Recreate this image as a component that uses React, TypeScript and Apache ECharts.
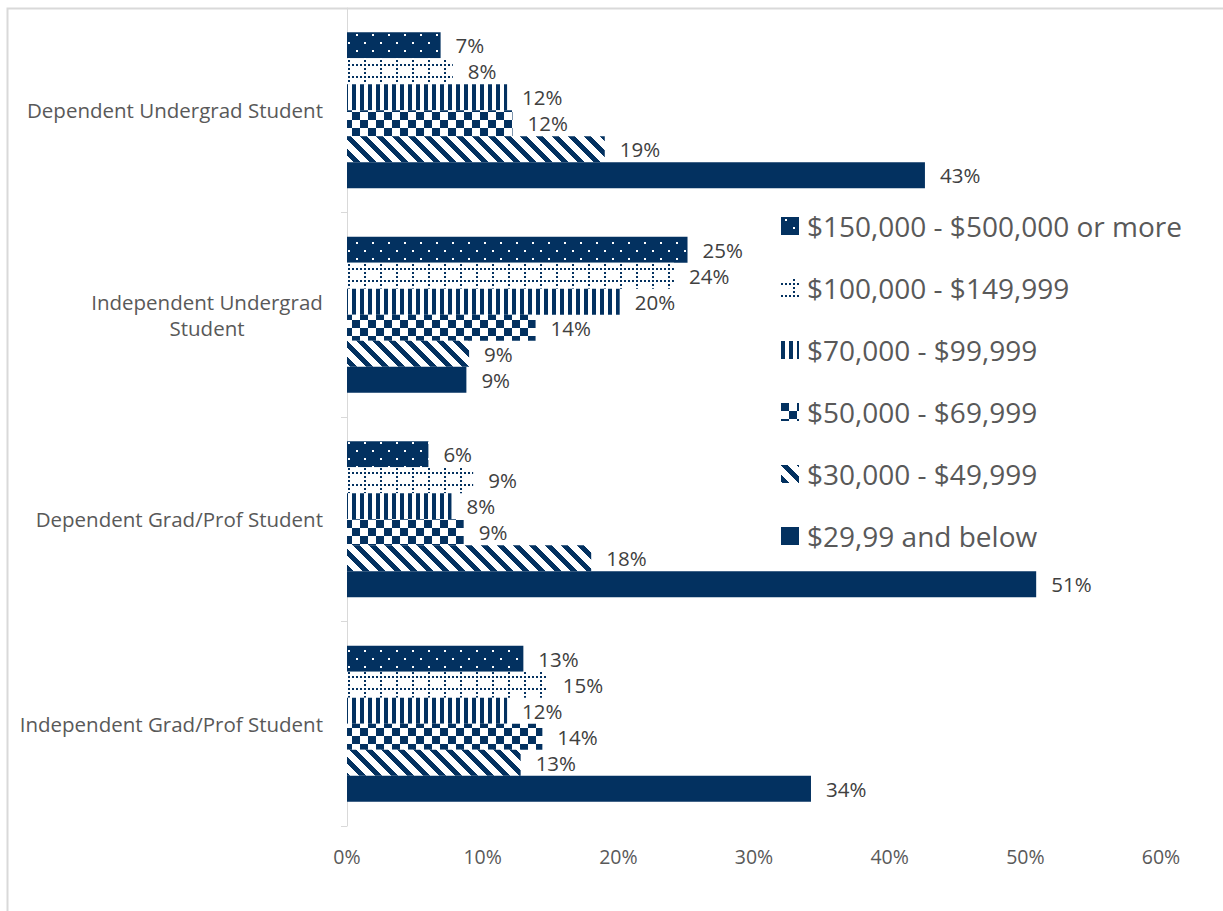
import React, { useEffect, useRef } from "react";
import * as echarts from "echarts";

const categories = [
  "Dependent Undergrad Student",
  "Independent Undergrad Student",
  "Dependent Grad/Prof Student",
  "Independent Grad/Prof Student",
];
const seriesNames = [
  "$150,000 - $500,000 or more",
  "$100,000 - $149,999",
  "$70,000 - $99,999",
  "$50,000 - $69,999",
  "$30,000 - $49,999",
  "$29,99 and below",
];
const s150 = [6.9, 25.1, 6.0, 13.0];
const s100 = [7.8, 24.1, 9.3, 14.8];
const s70 = [11.8, 20.1, 7.7, 11.8];
const s50 = [12.2, 13.9, 8.6, 14.4];
const s30 = [19.0, 9.0, 18.0, 12.8];
const sLow = [42.6, 8.8, 50.8, 34.2];
const seriesValues = [s150, s100, s70, s50, s30, sLow];
const xTicks = [0, 10, 20, 30, 40, 50, 60];

const DARK = "#033160";
const FONT = "'Open Sans', sans-serif";

function makeTile(w: number, h: number, bg: string, draw: (ctx: CanvasRenderingContext2D) => void) {
  const c = document.createElement("canvas");
  c.width = w;
  c.height = h;
  const ctx = c.getContext("2d")!;
  ctx.fillStyle = bg;
  ctx.fillRect(0, 0, w, h);
  ctx.fillStyle = bg === "#ffffff" ? DARK : "#ffffff";
  draw(ctx);
  return { image: c, repeat: "repeat", imageWidth: w, imageHeight: h } as any;
}

function buildPatterns() {
  const dots = makeTile(16, 16, DARK, (ctx) => {
    ctx.fillRect(4, 2, 2, 2);
    ctx.fillRect(12, 10, 2, 2);
  });
  const grid = makeTile(16, 12, "#ffffff", (ctx) => {
    for (let y = 0; y < 12; y += 4) ctx.fillRect(12, y, 2, 2);
    for (let x = 0; x < 16; x += 4) ctx.fillRect(x, 4, 2, 2);
  });
  const vert = makeTile(8, 8, "#ffffff", (ctx) => {
    ctx.fillRect(0, 0, 4, 8);
  });
  const checker = makeTile(16, 16, "#ffffff", (ctx) => {
    ctx.fillRect(0, 0, 8, 8);
    ctx.fillRect(8, 8, 8, 8);
  });
  const diag = makeTile(16, 16, "#ffffff", (ctx) => {
    for (let y = 0; y < 16; y++) {
      for (let x = 0; x < 16; x++) {
        if ((((x - y) % 16) + 16) % 16 < 7) ctx.fillRect(x, y, 1, 1);
      }
    }
  });
  return [dots, grid, vert, checker, diag, DARK];
}

export default function App() {
  const ref = useRef<HTMLDivElement>(null);
  useEffect(() => {
    const chart = echarts.init(ref.current!, null, { renderer: "svg" });
    const patterns = buildPatterns();
    const series = seriesNames.map((name, i) => ({
      name,
      type: "bar",
      data: seriesValues[i],
      barWidth: 26,
      barGap: "0%",
      itemStyle: { color: patterns[i] },
      label: {
        show: true,
        position: "right",
        distance: 15,
        color: "#404040",
        fontSize: 20.5,
        fontFamily: FONT,
        formatter: (p: any) => Math.round(p.value) + "%",
      },
    }));
    chart.setOption({
      animation: false,
      backgroundColor: "#ffffff",
      grid: { left: 347, right: 62, top: 8, bottom: 85, containLabel: false },
      xAxis: {
        type: "value",
        min: xTicks[0],
        max: xTicks[xTicks.length - 1],
        interval: 10,
        axisLine: { show: false },
        axisTick: { show: false },
        splitLine: { show: false },
        axisLabel: {
          color: "#595959",
          fontSize: 19.5,
          fontFamily: FONT,
          margin: 20,
          formatter: (v: number) => v + "%",
        },
      },
      yAxis: {
        type: "category",
        inverse: true,
        data: categories,
        axisLine: { show: true, lineStyle: { color: "#d9d9d9", width: 1 } },
        axisTick: { show: true, length: 6, lineStyle: { color: "#d9d9d9" } },
        axisLabel: {
          margin: 24,
          color: "#595959",
          fontSize: 20.5,
          fontFamily: FONT,
          lineHeight: 26,
          formatter: (v: string) =>
            v === "Independent Undergrad Student" ? "{c|Independent Undergrad}\n{c|Student}" : v,
          rich: {
            c: { width: 232, align: "center", color: "#595959", fontSize: 20.5, fontFamily: FONT, lineHeight: 26 },
          },
        },
      },
      legend: {
        orient: "vertical",
        left: 776,
        top: 206,
        itemWidth: 18,
        itemHeight: 18,
        itemGap: 32,
        icon: "rect",
        data: seriesNames,
        textStyle: { fontSize: 28, color: "#595959", fontFamily: FONT, lineHeight: 30, padding: [0, 0, 0, 3] },
      },
      graphic: [
        {
          type: "rect",
          shape: { x: 7.5, y: 8.5, width: 1400, height: 1000 },
          style: { fill: "none", stroke: "#d9d9d9", lineWidth: 2 },
          silent: true,
        },
      ],
      series,
    });
    return () => chart.dispose();
  }, []);
  return <div ref={ref} style={{ position: "fixed", left: 0, top: 0, width: 1223, height: 911 }} />;
}
